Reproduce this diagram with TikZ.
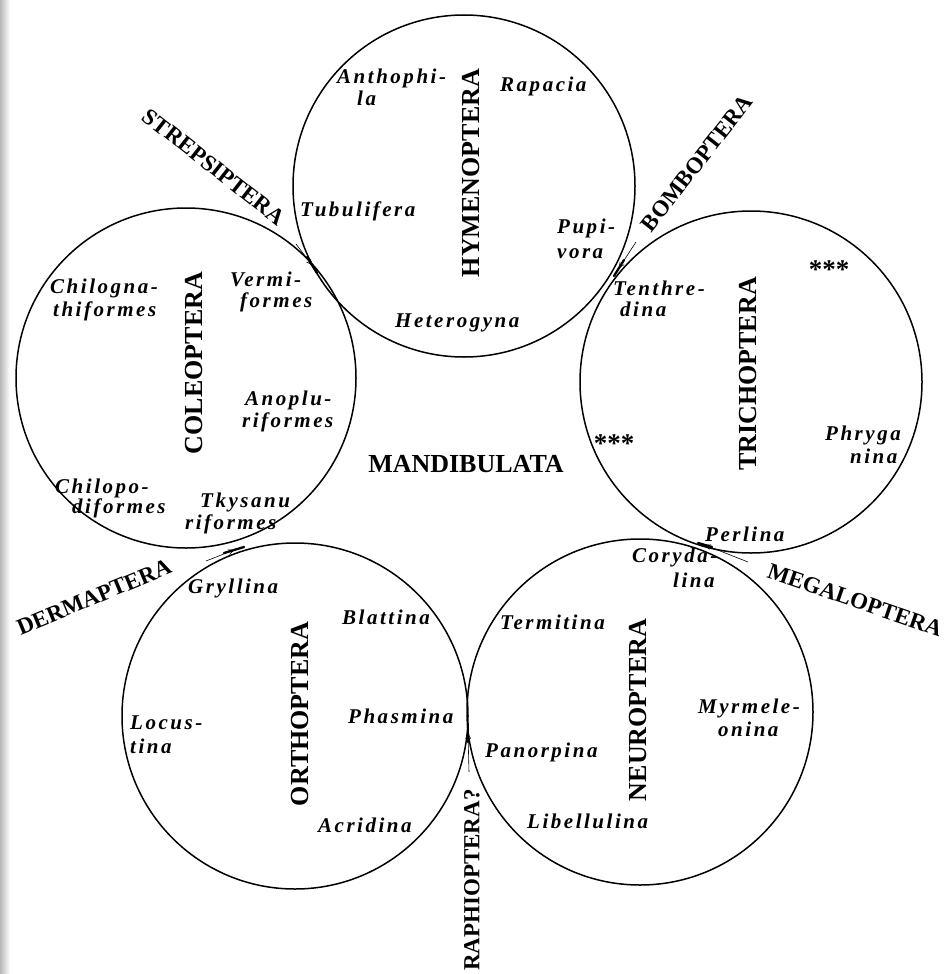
\documentclass[tikz,border=0pt]{standalone}
\usepackage{fontspec}
\setmainfont{Liberation Serif}
\newfontfamily\itl[LetterSpace=12]{Liberation Serif}
\usetikzlibrary{arrows.meta,calc}
\begin{document}
\begin{tikzpicture}[x=1pt,y=-1pt,
  ord/.style={circle,draw,line width=1.5pt,inner sep=0pt},
  big/.style={font=\fontsize{26}{26}\selectfont\bfseries,inner sep=0pt},
  side/.style={font=\fontsize{23}{23}\selectfont\bfseries,inner sep=0pt},
  lbl/.style={font=\fontsize{21}{21}\selectfont\itl\bfseries\itshape,anchor=base west,inner sep=0pt},
  stars/.style={font=\fontsize{27}{27}\selectfont\bfseries,inner sep=0pt},
  ptr/.style={line width=0.6pt,-{Straight Barb[length=5pt,width=5pt]}},
  knot/.style={line width=2.3pt,line cap=round}]
\useasboundingbox (0,0) rectangle (946,974);
\fill[white] (0,0) rectangle (946,974);
\shade[left color=black!28,right color=white] (0,0) rectangle (10,974);

% circles
\node[ord,minimum size=342pt] (hym) at (464,186) {};
\node[ord,minimum size=340pt] (col) at (186,378) {};
\node[ord,minimum size=342pt] (tri) at (751,382) {};
\node[ord,minimum size=346pt] (neu) at (640,712) {};
\node[ord,minimum size=346pt] (ort) at (295,716) {};

% junctions
\coordinate (jHC) at (312,265);
\coordinate (jHT) at (619,268);
\coordinate (jTN) at (705,545);
\coordinate (jNO) at (468,733);
\coordinate (jOC) at (234,550);
\draw[knot] ($(jHC)+(-5,-8)$) -- ($(jHC)+(5,8)$);
\draw[knot] ($(jHT)+(5,-8)$) -- ($(jHT)+(-5,8)$);
\draw[knot] ($(jTN)+(-7,-2)$) -- ($(jTN)+(7,2)$);
\draw[knot] ($(jNO)+(0,-9)$) -- ($(jNO)+(0,9)$);
\draw[knot] ($(jOC)+(-10,3)$) -- ($(jOC)+(10,-3)$);

% order names
\node[big,rotate=90] (nHym) at (471,173) {HYMENOPTERA};
\node[big,rotate=90] (nCol) at (194,363) {COLEOPTERA};
\node[big,rotate=90] (nTri) at (748,374) {TRICHOPTERA};
\node[big,rotate=90] (nOrt) at (300,714) {ORTHOPTERA};
\node[big,rotate=90] (nNeu) at (638,710) {NEUROPTERA};
\node[big] (nMan) at (466,464) {MANDIBULATA};

% side labels
\node[side,rotate=-38] (sStr) at (214,167) {STREPSIPTERA};
\node[side,rotate=52] (sBom) at (697,163) {BOMBOPTERA};
\node[side,rotate=22.5] (sDer) at (94,597) {DERMAPTERA};
\node[side,rotate=-19] (sMeg) at (855,600) {MEGALOPTERA};
\node[side,rotate=90] (sRap) at (472,880) {RAPHIOPTERA?};

\coordinate (aStr) at (296,244);
\coordinate (aBom) at (636,242);
\coordinate (aMeg) at (748,562);
\coordinate (aRap) at (469,772);
\coordinate (aDer) at (206,561);
\draw[ptr] (aStr) -- (jHC);
\draw[ptr] (aBom) -- (jHT);
\draw[ptr] (aMeg) -- (jTN);
\draw[ptr] (aRap) -- (jNO);
\draw[ptr] (aDer) -- (jOC);

% Hymenoptera
\node[lbl] (h1) at (337,83) {Anthophi-};
\node[lbl] (h2) at (357,105) {la};
\node[lbl] (h3) at (500,91) {Rapacia};
\node[lbl] (h4) at (300,216) {Tubulifera};
\node[lbl] (h5) at (557,233) {Pupi-};
\node[lbl] (h6) at (557,258) {vora};
\node[lbl] (h7) at (395,327) {Heterogyna};

% Coleoptera
\node[lbl] (c1) at (50,293) {Chilogna-};
\node[lbl] (c2) at (53,316) {thiformes};
\node[lbl] (c3) at (230,286) {Vermi-};
\node[lbl] (c4) at (240,307) {formes};
\node[lbl] (c5) at (245,405) {Anoplu-};
\node[lbl] (c6) at (242,427) {riformes};
\node[lbl] (c7) at (55,493) {Chilopo-};
\node[lbl] (c8) at (72,513) {diformes};
\node[lbl] (c9) at (200,507) {Tkysanu};
\node[lbl] (c10) at (185,529) {riformes};

% Trichoptera
\node[stars] (t0) at (829,270) {***};
\node[lbl] (t1) at (613,295) {Tenthre-};
\node[lbl] (t2) at (620,316) {dina};
\node[stars] (t3) at (614,444) {***};
\node[lbl] (t4) at (825,440) {Phryga};
\node[lbl] (t5) at (850,463) {nina};
\node[lbl] (t6) at (705,541) {Perlina};

% Neuroptera
\node[lbl] (n1) at (632,562) {Coryda-};
\node[lbl] (n2) at (673,587) {lina};
\node[lbl] (n3) at (500,629) {Termitina};
\node[lbl] (n4) at (698,713) {Myrmele-};
\node[lbl] (n5) at (718,736) {onina};
\node[lbl] (n6) at (485,757) {Panorpina};
\node[lbl] (n7) at (527,828) {Libellulina};

% Orthoptera
\node[lbl] (o1) at (188,593) {Gryllina};
\node[lbl] (o2) at (342,624) {Blattina};
\node[lbl] (o3) at (348,723) {Phasmina};
\node[lbl] (o4) at (130,729) {Locus-};
\node[lbl] (o5) at (130,753) {tina};
\node[lbl] (o6) at (318,832) {Acridina};
\end{tikzpicture}
\end{document}
